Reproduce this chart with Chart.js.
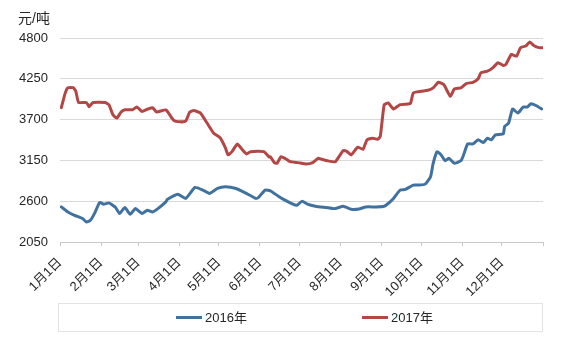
<!DOCTYPE html>
<html>
<head>
<meta charset="utf-8">
<script src="https://cdn.jsdelivr.net/npm/chart.js@4"></script>
<style>
  html, body { margin: 0; padding: 0; background: #ffffff; }
  #wrap { position: relative; width: 568px; height: 340px; }
</style>
</head>
<body>
<div id="wrap"><canvas id="c" width="568" height="340"></canvas></div>
<script>
// Day of year (0 = 1月1日) for each sample, and price in 元/吨
const days2016 = [1, 6, 11, 17, 20, 23, 26, 30, 33, 37, 42, 45, 49, 53, 57, 62, 66, 70, 74, 80,
  81, 89, 95, 102, 108, 113, 119, 125, 133, 140, 148, 150, 155, 159, 165, 170, 176, 179, 183, 187,
  193, 201, 208, 214, 220, 226, 231, 239, 245, 248, 252, 257, 261, 267, 271, 276, 280, 282, 285, 288,
  291, 294, 298, 303, 305, 308, 312, 316, 320, 323, 326, 329, 335, 336, 339, 342, 346, 350, 353, 356,
  360, 364];
const price2016 = [2523, 2455, 2410, 2366, 2320, 2343, 2433, 2583, 2560, 2577, 2515, 2433, 2515, 2424, 2500, 2433, 2478, 2455, 2500, 2590,
  2623, 2695, 2637, 2786, 2750, 2705, 2772, 2794, 2772, 2713, 2637, 2650, 2750, 2740, 2668, 2614, 2560, 2546, 2600, 2560,
  2532, 2515, 2500, 2532, 2492, 2496, 2523, 2523, 2532, 2569, 2637, 2750, 2759, 2817, 2817, 2830, 2930, 3111, 3268, 3224,
  3146, 3178, 3111, 3146, 3224, 3372, 3372, 3427, 3391, 3450, 3427, 3495, 3508, 3607, 3653, 3843, 3788, 3869, 3869, 3914,
  3887, 3843];

const days2017 = [1, 4, 6, 10, 12, 14, 20, 22, 25, 34, 37, 40, 43, 46, 49, 55, 58, 62, 66, 70,
  73, 80, 86, 91, 95, 98, 101, 106, 111, 116, 121, 125, 127, 130, 134, 138, 141, 144, 154, 158,
  159, 162, 164, 167, 170, 174, 180, 186, 191, 195, 198, 202, 208, 214, 217, 220, 225, 229, 232, 236,
  240, 242, 245, 248, 252, 257, 263, 265, 267, 273, 278, 282, 286, 290, 295, 298, 303, 307, 312, 316,
  318, 323, 327, 331, 335, 337, 341, 345, 348, 352, 355, 358, 362, 365];
const price2017 = [3860, 4060, 4130, 4130, 4080, 3932, 3930, 3874, 3930, 3930, 3900, 3765, 3720, 3800, 3833, 3833, 3870, 3810, 3840, 3860,
  3802, 3830, 3690, 3670, 3680, 3800, 3823, 3790, 3657, 3520, 3455, 3320, 3225, 3268, 3372, 3290, 3237, 3268, 3268, 3196,
  3200, 3120, 3111, 3200, 3178, 3133, 3120, 3102, 3120, 3178, 3165, 3146, 3133, 3282, 3268, 3224, 3328, 3300, 3427, 3450,
  3436, 3471, 3901, 3924, 3843, 3901, 3910, 3924, 4059, 4081, 4095, 4127, 4203, 4172, 4013, 4113, 4127, 4186, 4203, 4250,
  4330, 4352, 4398, 4466, 4430, 4443, 4578, 4555, 4670, 4692, 4746, 4700, 4670, 4670];

// Month boundaries on the x axis and their labels
const monthStarts = [0, 31, 59, 90, 120, 151, 181, 212, 243, 273, 304, 334, 365];
const monthLabels = ['1月1日', '2月1日', '3月1日', '4月1日', '5月1日', '6月1日', '7月1日',
  '8月1日', '9月1日', '10月1日', '11月1日', '12月1日', ''];

const yTicks = [2050, 2600, 3150, 3700, 4250, 4800];
const seriesNames = ['2016年', '2017年'];
const seriesColors = ['#41729f', '#b24745'];
const unitLabel = '元/吨';

const FONT = '"Liberation Sans", "Noto Sans CJK SC", sans-serif';
const TEXT = '#262626';

function pairs(xs, ys) { return xs.map((d, i) => ({ x: d, y: ys[i] })); }

// Unit caption above the value axis and the boxed legend under the chart
const decorations = {
  id: 'decorations',
  afterDraw(chart) {
    const ctx = chart.ctx;
    const area = chart.chartArea;
    ctx.save();
    ctx.font = '14px ' + FONT;
    ctx.fillStyle = TEXT;
    ctx.textAlign = 'right';
    ctx.textBaseline = 'middle';
    ctx.fillText(unitLabel, area.left - 10, 19);

    // legend frame
    const top = 303.5, bottom = 331.5;
    ctx.strokeStyle = '#e3e3e3';
    ctx.lineWidth = 1;
    ctx.strokeRect(Math.round(area.left) - 1.5, top, Math.round(area.right - area.left) + 1, bottom - top);

    const cy = (top + bottom) / 2;
    const starts = [176, 362];
    ctx.font = '13px ' + FONT;
    ctx.textAlign = 'left';
    seriesNames.forEach((name, i) => {
      ctx.strokeStyle = seriesColors[i];
      ctx.lineWidth = 3;
      ctx.beginPath();
      ctx.moveTo(starts[i], cy);
      ctx.lineTo(starts[i] + 26, cy);
      ctx.stroke();
      ctx.fillStyle = TEXT;
      ctx.fillText(name, starts[i] + 29, cy + 1);
    });
    ctx.restore();
  }
};

new Chart(document.getElementById('c'), {
  type: 'line',
  data: {
    datasets: [
      { label: seriesNames[0], data: pairs(days2016, price2016), borderColor: seriesColors[0],
        backgroundColor: seriesColors[0], borderWidth: 3, pointRadius: 0, tension: 0.15,
        borderJoinStyle: 'round', borderCapStyle: 'round' },
      { label: seriesNames[1], data: pairs(days2017, price2017), borderColor: seriesColors[1],
        backgroundColor: seriesColors[1], borderWidth: 3, pointRadius: 0, tension: 0.15,
        borderJoinStyle: 'round', borderCapStyle: 'round' }
    ]
  },
  options: {
    responsive: false,
    animation: false,
    layout: { padding: { left: 0, right: 25, top: 38, bottom: 0 } },
    plugins: { legend: { display: false }, tooltip: { enabled: false }, title: { display: false } },
    scales: {
      x: {
        type: 'linear',
        min: 0,
        max: 365,
        afterBuildTicks(scale) { scale.ticks = monthStarts.map(v => ({ value: v })); },
        afterFit(scale) { scale.height = 98; },
        ticks: {
          autoSkip: false,
          minRotation: 45,
          maxRotation: 45,
          padding: 9,
          color: TEXT,
          font: { size: 13, family: FONT },
          callback(value) { const i = monthStarts.indexOf(value); return i >= 0 ? monthLabels[i] : ''; }
        },
        grid: { display: true, drawOnChartArea: false, drawTicks: true, tickLength: 4, color: '#c8c8c8' },
        border: { display: true, color: '#c8c8c8' }
      },
      y: {
        min: 2050,
        max: 4800,
        afterBuildTicks(scale) { scale.ticks = yTicks.map(v => ({ value: v })); },
        afterFit(scale) { scale.width = 60; },
        ticks: { color: TEXT, padding: 12, font: { size: 13, family: FONT },
          callback(value) { return String(value); } },
        grid: { color: '#d9d9d9', drawTicks: false },
        border: { display: false }
      }
    }
  },
  plugins: [decorations]
});
</script>
</body>
</html>
